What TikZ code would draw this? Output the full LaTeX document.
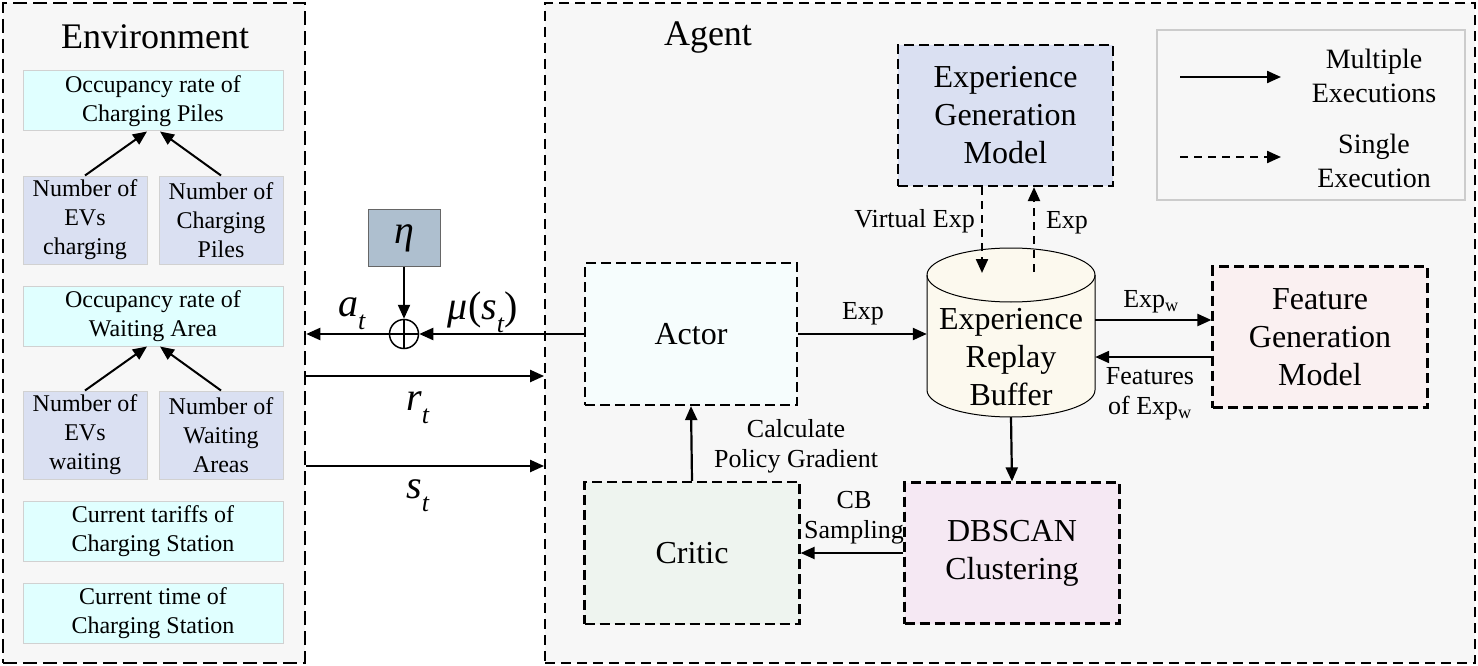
\documentclass[tikz,border=0pt]{standalone}
\usepackage{fontspec}
\setmainfont{Liberation Serif}
\usetikzlibrary{arrows.meta,calc}
\definecolor{bgg}{HTML}{F7F7F7}
\definecolor{cyanbox}{HTML}{E0FFFF}
\definecolor{bluebox}{HTML}{DAE0F2}
\definecolor{etabox}{HTML}{AEBFCF}
\definecolor{actorc}{HTML}{F6FDFD}
\definecolor{criticc}{HTML}{EEF4EF}
\definecolor{fgmc}{HTML}{FAF0F1}
\definecolor{dbc}{HTML}{F5E8F3}
\definecolor{erbc}{HTML}{FCF9EE}
\definecolor{legc}{HTML}{CCCCCC}
\newcommand\isub[2]{\textit{#1}\raisebox{-0.32em}{\fontsize{26}{26}\selectfont\textit{#2}}}
\begin{document}
\begin{tikzpicture}[x=1pt,y=-1pt,
  envframe/.style={draw, line width=2.5pt, dash pattern=on 14pt off 6pt, inner sep=0pt},
  agframe/.style={draw, line width=1.8pt, dash pattern=on 10pt off 6pt, inner sep=0pt},
  dbox/.style={draw, line width=2.2pt, dash pattern=on 10pt off 5pt, inner sep=0pt, align=center,
     font=\fontsize{32}{38}\selectfont},
  ebox/.style={draw=black!18, line width=1pt, inner sep=0pt, align=center,
     font=\fontsize{24}{29}\selectfont},
  arr/.style={line width=2.2pt, -{Triangle[length=14pt,width=12pt]}},
  darr/.style={line width=2.2pt, dash pattern=on 8pt off 6pt, -{Triangle[length=14pt,width=12pt]}},
  lab/.style={font=\fontsize{26}{30}\selectfont, align=center, inner sep=0pt},
  mlab/.style={font=\fontsize{40}{40}\selectfont, inner sep=0pt}
]
\useasboundingbox (0,0) rectangle (1478,666);
\fill[white] (0,0) rectangle (1478,666);

% frames
\node[envframe, fill=bgg, minimum width=302pt, minimum height=660pt] (env) at (154,333) {};
\node[agframe, fill=bgg, minimum width=930pt, minimum height=660pt] (agent) at (1010,333) {};
\node[font=\fontsize{36}{36}\selectfont, inner sep=0pt] (envt) at (155,37) {Environment};
\node[font=\fontsize{36}{36}\selectfont, inner sep=0pt] (agt) at (708,38) {Agent};

% environment boxes
\node[ebox, fill=cyanbox, minimum width=260pt, minimum height=60pt] (occ1) at (153,101) {Occupancy rate of\\Charging Piles};
\node[ebox, fill=bluebox, minimum width=124pt, minimum height=88pt] (evc) at (85,220) {Number of\\EVs\\charging};
\node[ebox, fill=bluebox, minimum width=124pt, minimum height=88pt] (cp) at (221,220) {Number of\\Charging\\Piles};
\node[ebox, fill=cyanbox, minimum width=260pt, minimum height=60pt] (occ2) at (153,316) {Occupancy rate of\\Waiting Area};
\node[ebox, fill=bluebox, minimum width=124pt, minimum height=88pt] (evw) at (85,435) {Number of\\EVs\\waiting};
\node[ebox, fill=bluebox, minimum width=124pt, minimum height=88pt] (wa) at (221,435) {Number of\\Waiting\\Areas};
\node[ebox, fill=cyanbox, minimum width=260pt, minimum height=60pt] (tar) at (153,531) {Current tariffs of\\Charging Station};
\node[ebox, fill=cyanbox, minimum width=260pt, minimum height=60pt] (tim) at (153,613) {Current time of\\Charging Station};

\draw[arr, line width=2pt] (evc.north) -- ($(occ1.south)+(-6,0)$);
\draw[arr, line width=2pt] (cp.north) -- ($(occ1.south)+(7,0)$);
\draw[arr, line width=2pt] (evw.north) -- ($(occ2.south)+(-6,0)$);
\draw[arr, line width=2pt] (wa.north) -- ($(occ2.south)+(7,0)$);

% agent boxes
\node[dbox, fill=actorc, minimum width=212pt, minimum height=142pt] (actor) at (691,334) {Actor};
\node[dbox, fill=criticc, minimum width=215pt, minimum height=142pt] (critic) at (692,553) {Critic};
\node[dbox, fill=bluebox, minimum width=215pt, minimum height=141pt] (egm) at (1005.5,115.5) {Experience\\Generation\\Model};
\node[dbox, fill=fgmc, minimum width=215pt, minimum height=141pt] (fgm) at (1320,337) {Feature\\Generation\\Model};
\node[dbox, fill=dbc, minimum width=215pt, minimum height=141pt] (db) at (1012,553) {DBSCAN\\Clustering};

% cylinder
\draw[line width=1pt, fill=erbc] (927,275) -- (927,390) arc[start angle=180,end angle=0,x radius=84,y radius=27]
   -- (1095,275) arc[start angle=0,end angle=-180,x radius=84,y radius=27] -- cycle;
\draw[line width=1pt] (927,275) arc[start angle=180,end angle=0,x radius=84,y radius=27];
\node[inner sep=0pt, minimum width=168pt, minimum height=169pt] (erb) at (1011,332.5) {};
\node[inner sep=0pt, align=center, font=\fontsize{32}{38}\selectfont] (erbt) at (1011,357) {Experience\\Replay\\Buffer};

% legend
\node[draw=legc, line width=2pt, fill=bgg, minimum width=308pt, minimum height=170pt, inner sep=0pt] (leg) at (1311,115) {};
\coordinate (l1a) at (1180,77); \coordinate (l1b) at (1281,77);
\coordinate (l2a) at (1180,157); \coordinate (l2b) at (1281,157);
\draw[arr] (l1a) -- (l1b);
\draw[darr] (l2a) -- (l2b);
\node[lab, font=\fontsize{28}{34}\selectfont] (multi) at (1374,76) {Multiple\\Executions};
\node[lab, font=\fontsize{28}{34}\selectfont] (single) at (1374,161) {Single\\Execution};

% eta and sum
\node[draw=black!60, line width=1pt, fill=etabox, minimum width=72pt, minimum height=57pt, inner sep=0pt] (eta) at (404,238) {\fontsize{40}{40}\selectfont\textit{η}};
\node[circle, draw, line width=1.5pt, minimum size=29pt, inner sep=0pt, fill=white] (plus) at (404,334) {};
\draw[line width=1.5pt] (plus.north) -- (plus.south) (plus.west) -- (plus.east);

\draw[arr] (eta.south) -- (plus.north);
\draw[arr] (actor.west) -- (plus.east);
\draw[arr] (plus.west) -- (plus.west -| env.east);
\node[mlab] (at) at (352,314) {\isub{a}{t}};
\node[mlab] (mu) at (483,312) {\textit{μ}(\isub{s}{t})};

\coordinate (r0) at (env.east |- 0,376);
\coordinate (s0) at (env.east |- 0,466);
\draw[arr] (r0) -- (r0 -| agent.west);
\draw[arr] (s0) -- (s0 -| agent.west);
\node[mlab] (rt) at (418,408) {\isub{r}{t}};
\node[mlab] (st) at (418,496) {\isub{s}{t}};

% agent connectors
\draw[arr] (actor.east) -- (actor.east -| erb.west);
\node[lab] (expa) at (863,314) {Exp};
\draw[darr] ($(egm.south)+(-23.5,0)$) -- (982,273);
\draw[darr] (1034,272) -- ($(egm.south)+(28.5,0)$);
\node[lab, anchor=east] (vexp) at (975,221) {Virtual Exp};
\node[lab] (expb) at (1067,223) {Exp};

\coordinate (e1) at ($(erb.east)+(0,-12.5)$);
\draw[arr] (e1) -- (e1 -| fgm.west);
\node[lab] (expw) at (1151,302) {Exp\textsubscript{w}};
\coordinate (e2) at ($(fgm.west)+(0,20)$);
\draw[arr] (e2) -- (e2 -| erb.east);
\node[lab] (feat) at (1150,394) {Features\\of Exp\textsubscript{w}};

\draw[arr] (erb.south) -- (db.north);
\draw[arr] (db.west) -- (critic.east);
\node[lab] (cb) at (854,518) {CB\\Sampling};
\draw[arr] (critic.north) -- (actor.south);
\node[lab] (calc) at (796,446) {Calculate\\Policy Gradient};
\end{tikzpicture}
\end{document}
